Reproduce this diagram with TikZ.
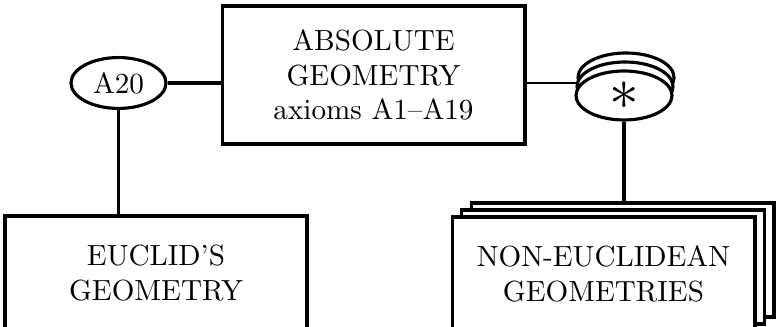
\documentclass[tikz,border=0pt]{standalone}
\usetikzlibrary{shapes.geometric,backgrounds}
\begin{document}
\begin{tikzpicture}[x=0.35pt,y=-0.35pt,line width=1.1pt,
  every node/.style={font=\fontsize{10.2pt}{12.1pt}\selectfont},
  box/.style={draw,fill=white,rectangle,align=center,inner sep=0pt},
  oval/.style={draw,fill=white,ellipse,inner sep=0pt},
  coin/.style={oval,minimum width=33.6pt,minimum height=17.15pt},
  sheet/.style={box,minimum width=106pt,minimum height=39.9pt}]
\useasboundingbox (0,0) rectangle (777,327);
% top box
\node[box,minimum width=106pt,minimum height=48.3pt] (abs) at (373.5,75)
  {ABSOLUTE\\GEOMETRY\\axioms A1--A19};
% A20 ellipse
\node[oval,minimum width=33.25pt,minimum height=17.8pt] (a20) at (118.5,83) {A20};
% Euclid box
\node[box,minimum width=105.7pt,minimum height=39.9pt] (euc) at (156,273)
  {EUCLID'S\\GEOMETRY};
% stacked ellipses
\node[coin] (star3) at (626,77.5) {};
\node[coin] (star2) at (625,86.5) {};
\node[coin,font=\huge] (star) at (624,95.5) {$\ast$};
% stacked sheets
\node[sheet] (ne3) at (622.5,260) {};
\node[sheet] (ne2) at (613,267) {};
\node[sheet] (ne) at (603.5,274) {NON-EUCLIDEAN\\GEOMETRIES};
% connectors
\draw (a20.east) -- (a20.east -| abs.west);
\draw (a20.south) -- (a20.south |- euc.north);
\draw (star.south) -- (star.south |- ne3.north);
\begin{scope}[on background layer]
  \draw (abs.east |- a20.east) -- (a20.east -| star2.center);
\end{scope}
\end{tikzpicture}
\end{document}
